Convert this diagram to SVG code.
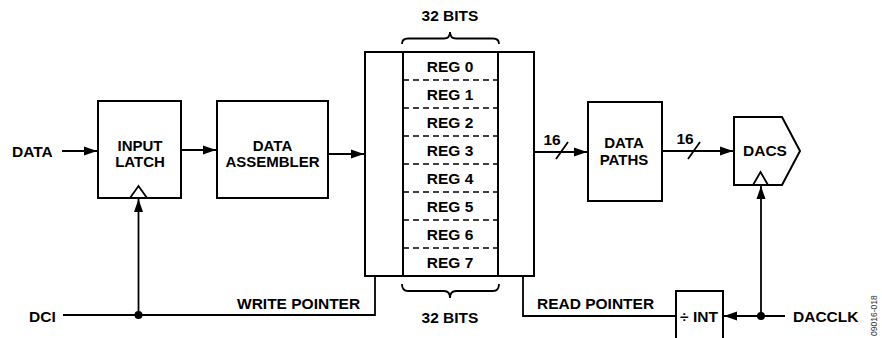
<svg xmlns="http://www.w3.org/2000/svg" width="882" height="338" viewBox="0 0 882 338">
<style>
text{font-family:"Liberation Sans",Arial,sans-serif;font-weight:bold;font-size:15.5px;fill:#000}
.c{text-anchor:middle}
.two{font-size:15px}
.box{fill:#fff;stroke:#000;stroke-width:2}
.ln{fill:none;stroke:#000;stroke-width:1.8}
.dash{fill:none;stroke:#000;stroke-width:1.5;stroke-dasharray:6,4}
.side{font-size:8.5px;font-weight:normal;fill:#333}
</style>
<defs>
<marker id="ah" markerUnits="userSpaceOnUse" markerWidth="14" markerHeight="10" refX="13" refY="5" orient="auto">
<path d="M0,0.5 L13,5 L0,9.5 Z" fill="#000"/>
</marker>
</defs>
<g id="connectors">
<path class="ln" d="M62,151 L97,151" marker-end="url(#ah)"/>
<path class="ln" d="M181,150 L216,150" marker-end="url(#ah)"/>
<path class="ln" d="M328,154 L364,154" marker-end="url(#ah)"/>
<path class="ln" d="M63,315 L375,315 L375,178 L402,178" marker-end="url(#ah)"/>
<path class="ln" d="M138.5,315 L138.5,199" marker-end="url(#ah)"/>
<circle cx="138.5" cy="315" r="4" fill="#000"/>
<path class="ln" d="M676,316 L523,316 L523,96 L499,96" marker-end="url(#ah)"/>
<path class="ln" d="M534,152 L587,152" marker-end="url(#ah)"/>
<path class="ln" d="M556,159 L568,142"/>
<path class="ln" d="M662,151 L733,151" marker-end="url(#ah)"/>
<path class="ln" d="M688,159 L700,142"/>
<path class="ln" d="M785,316 L724,316" marker-end="url(#ah)"/>
<path class="ln" d="M761,316 L761,186" marker-end="url(#ah)"/>
<circle cx="761" cy="316" r="4" fill="#000"/>
<text class="c" x="552" y="145">16</text>
<text class="c" x="685" y="144">16</text>
<text x="237" y="309">WRITE POINTER</text>
<text x="537" y="309">READ POINTER</text>
</g>
<g id="data-label"><text x="12" y="157">DATA</text></g>
<g id="dci-label"><text x="29" y="322">DCI</text></g>
<g id="input-latch">
<rect class="box" x="98" y="101" width="83" height="97"/>
<path class="ln" d="M130,198 L138.5,186 L147,198"/>
<text class="c two" x="140" y="151">INPUT</text>
<text class="c two" x="140" y="167">LATCH</text>
</g>
<g id="data-assembler">
<rect class="box" x="217" y="101" width="111" height="97"/>
<text class="c two" x="272.5" y="151">DATA</text>
<text class="c two" x="272.5" y="167">ASSEMBLER</text>
</g>
<g id="fifo">
<rect class="box" x="365" y="52" width="169" height="224"/>
<rect class="box" x="403" y="52" width="95" height="224"/>
<path class="dash" d="M403,80H498M403,108H498M403,136H498M403,164H498M403,192H498M403,220H498M403,248H498"/>
<text class="c" x="450" y="72">REG 0</text>
<text class="c" x="450" y="100">REG 1</text>
<text class="c" x="450" y="128">REG 2</text>
<text class="c" x="450" y="156">REG 3</text>
<text class="c" x="450" y="184">REG 4</text>
<text class="c" x="450" y="212">REG 5</text>
<text class="c" x="450" y="240">REG 6</text>
<text class="c" x="450" y="268">REG 7</text>
<path class="ln" d="M402,44 Q402,38.5 408,38.5 L444,38.5 Q450,38.5 450,32 Q450,38.5 456,38.5 L493,38.5 Q499,38.5 499,44"/>
<text class="c" x="450" y="21">32 BITS</text>
<path class="ln" d="M402,284 Q402,291 408,291 L444,291 Q450,291 450,298 Q450,291 456,291 L493,291 Q499,291 499,284"/>
<text class="c" x="450" y="323">32 BITS</text>
</g>
<g id="data-paths">
<rect class="box" x="588" y="102" width="74" height="99"/>
<text class="c two" x="624" y="148">DATA</text>
<text class="c two" x="624" y="165">PATHS</text>
</g>
<g id="dacs">
<path class="box" d="M734,117 L782,117 L800,151 L782,185 L734,185 Z"/>
<path class="ln" d="M753,185 L760.5,172 L768,185"/>
<text class="c" x="765" y="156">DACS</text>
</g>
<g id="div-int">
<rect class="box" x="676" y="291" width="47" height="60"/>
<text class="c" x="699" y="322">÷ INT</text>
</g>
<g id="dacclk-label"><text x="793" y="322">DACCLK</text></g>
<text class="side" transform="translate(877,336) rotate(-90)">09016-018</text>
</svg>
